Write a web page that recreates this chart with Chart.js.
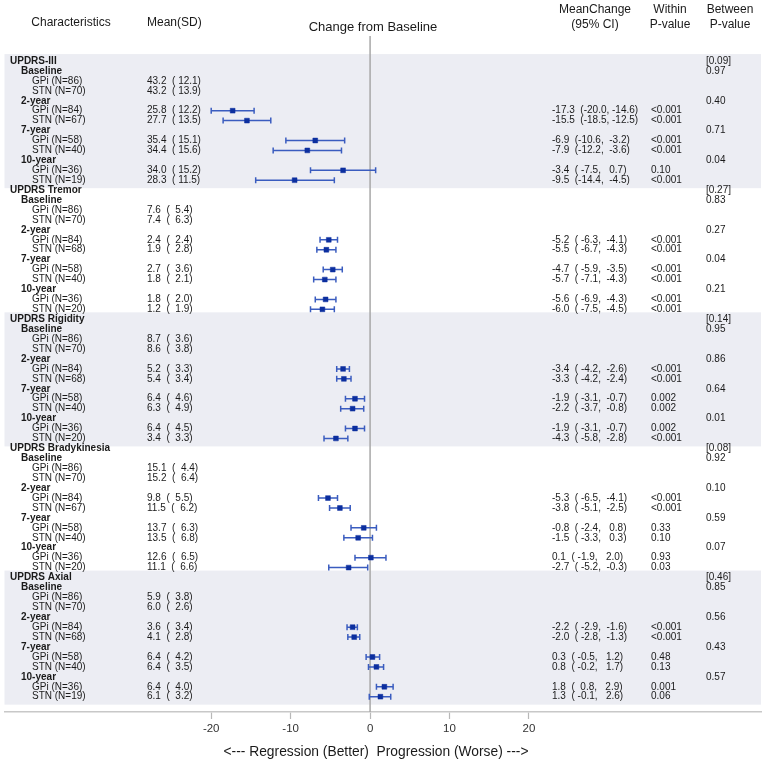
<!DOCTYPE html>
<html>
<head>
<meta charset="utf-8">
<script src="https://cdn.jsdelivr.net/npm/chart.js@4.4.1/dist/chart.umd.min.js"></script>
<style>
  html, body { margin: 0; padding: 0; background: #ffffff; }
  #wrap { width: 767px; height: 762px; }
</style>
</head>
<body>
<div id="wrap"><canvas id="c" width="767" height="762"></canvas></div>
<script>
// ---------------- DATA ----------------
const outcomes = ['UPDRS-III', 'UPDRS Tremor', 'UPDRS Rigidity', 'UPDRS Bradykinesia', 'UPDRS Axial'];
const timepoints = ['Baseline', '2-year', '7-year', '10-year'];
const overallP = ['0.09', '0.27', '0.14', '0.08', '0.46'];

// per outcome x timepoint (5 x 4 = 20 entries)
const gpiN    = [86, 84, 58, 36,  86, 84, 58, 36,  86, 84, 58, 36,  86, 84, 58, 36,  86, 84, 58, 36];
const stnN    = [70, 67, 40, 19,  70, 68, 40, 20,  70, 68, 40, 20,  70, 67, 40, 20,  70, 68, 40, 19];
const gpiMean = [43.2, 25.8, 35.4, 34.0,  7.6, 2.4, 2.7, 1.8,  8.7, 5.2, 6.4, 6.4,  15.1, 9.8, 13.7, 12.6,  5.9, 3.6, 6.4, 6.4];
const gpiSD   = [12.1, 12.2, 15.1, 15.2,  5.4, 2.4, 3.6, 2.0,  3.6, 3.3, 4.6, 4.5,  4.4, 5.5, 6.3, 6.5,  3.8, 3.4, 4.2, 4.0];
const stnMean = [43.2, 27.7, 34.4, 28.3,  7.4, 1.9, 1.8, 1.2,  8.6, 5.4, 6.3, 3.4,  15.2, 11.5, 13.5, 11.1,  6.0, 4.1, 6.4, 6.1];
const stnSD   = [13.9, 13.5, 15.6, 11.5,  6.3, 2.8, 2.1, 1.9,  3.8, 3.4, 4.9, 3.3,  6.4, 6.2, 6.8, 6.6,  2.6, 2.8, 3.5, 3.2];

const gpiChange = [null, -17.3, -6.9, -3.4,  null, -5.2, -4.7, -5.6,  null, -3.4, -1.9, -1.9,  null, -5.3, -0.8, 0.1,  null, -2.2, 0.3, 1.8];
const gpiLo     = [null, -20.0, -10.6, -7.5,  null, -6.3, -5.9, -6.9,  null, -4.2, -3.1, -3.1,  null, -6.5, -2.4, -1.9,  null, -2.9, -0.5, 0.8];
const gpiHi     = [null, -14.6, -3.2, 0.7,  null, -4.1, -3.5, -4.3,  null, -2.6, -0.7, -0.7,  null, -4.1, 0.8, 2.0,  null, -1.6, 1.2, 2.9];
const gpiP      = [null, '<0.001', '<0.001', '0.10',  null, '<0.001', '<0.001', '<0.001',  null, '<0.001', '0.002', '0.002',  null, '<0.001', '0.33', '0.93',  null, '<0.001', '0.48', '0.001'];

const stnChange = [null, -15.5, -7.9, -9.5,  null, -5.5, -5.7, -6.0,  null, -3.3, -2.2, -4.3,  null, -3.8, -1.5, -2.7,  null, -2.0, 0.8, 1.3];
const stnLo     = [null, -18.5, -12.2, -14.4,  null, -6.7, -7.1, -7.5,  null, -4.2, -3.7, -5.8,  null, -5.1, -3.3, -5.2,  null, -2.8, -0.2, -0.1];
const stnHi     = [null, -12.5, -3.6, -4.5,  null, -4.3, -4.3, -4.5,  null, -2.4, -0.8, -2.8,  null, -2.5, 0.3, -0.3,  null, -1.3, 1.7, 2.6];
const stnP      = [null, '<0.001', '<0.001', '<0.001',  null, '<0.001', '<0.001', '<0.001',  null, '<0.001', '0.002', '<0.001',  null, '<0.001', '0.10', '0.03',  null, '<0.001', '0.13', '0.06'];

const betweenP = ['0.97', '0.40', '0.71', '0.04',  '0.83', '0.27', '0.04', '0.21',  '0.95', '0.86', '0.64', '0.01',  '0.92', '0.10', '0.59', '0.07',  '0.85', '0.56', '0.43', '0.57'];

const xTicks = [-20, -10, 0, 10, 20];
const xTitle = '<--- Regression (Better)  Progression (Worse) --->';

// ---------------- LAYOUT HELPERS ----------------
const ROWS_PER_OUTCOME = 13;
const headerRow = o => o * ROWS_PER_OUTCOME;
const timeRow = (o, t) => o * ROWS_PER_OUTCOME + 1 + t * 3;
const groupRow = (o, t, g) => timeRow(o, t) + 1 + g;

const f1 = v => v.toFixed(1);
const pad = (s, w) => (' '.repeat(Math.max(0, w - s.length))) + s;

// build marks
const ciPts = [], estPts = [];
outcomes.forEach((o, oi) => {
  timepoints.forEach((t, ti) => {
    const k = oi * 4 + ti;
    if (gpiChange[k] !== null) {
      const r = groupRow(oi, ti, 0);
      ciPts.push({x: gpiLo[k], y: r}, {x: gpiHi[k], y: r}, {x: null, y: null});
      estPts.push({x: gpiChange[k], y: r});
    }
    if (stnChange[k] !== null) {
      const r = groupRow(oi, ti, 1);
      ciPts.push({x: stnLo[k], y: r}, {x: stnHi[k], y: r}, {x: null, y: null});
      estPts.push({x: stnChange[k], y: r});
    }
  });
});

const Y_MIN = -2.52, Y_MAX = 65.54;
const FONT = '"Liberation Sans", Arial, Helvetica, sans-serif';
const TXT = '#1a1a1a';

const bandPlugin = {
  id: 'bands',
  beforeDraw(chart) {
    const {ctx, chartArea, scales: {y}} = chart;
    ctx.save();
    ctx.fillStyle = '#ecedf3';
    outcomes.forEach((o, oi) => {
      if (oi % 2 !== 0) return;
      const top = y.getPixelForValue(headerRow(oi) - 0.7);
      const bot = y.getPixelForValue(headerRow(oi) + 12.8);
      ctx.fillRect(chartArea.left, top, chartArea.right - chartArea.left, bot - top);
    });
    ctx.restore();
  }
};

const textPlugin = {
  id: 'tableText',
  afterDraw(chart) {
    const {ctx, scales: {x, y}} = chart;
    ctx.save();
    ctx.fillStyle = TXT;
    ctx.textBaseline = 'middle';

    // column headers
    ctx.font = '12px ' + FONT;
    ctx.textAlign = 'center';
    ctx.fillText('Characteristics', 71, 23);
    ctx.textAlign = 'left';
    ctx.fillText('Mean(SD)', 147, 23);
    ctx.textAlign = 'center';
    ctx.fillText('MeanChange', 595, 10);
    ctx.fillText('(95% CI)', 595, 25);
    ctx.fillText('Within', 670, 10);
    ctx.fillText('P-value', 670, 25);
    ctx.fillText('Between', 730, 10);
    ctx.fillText('P-value', 730, 25);
    ctx.font = '13px ' + FONT;
    ctx.fillText('Change from Baseline', 373, 27);

    // axis title
    ctx.font = '13.8px ' + FONT;
    ctx.fillText(xTitle, 376, 752);

    // table rows
    outcomes.forEach((o, oi) => {
      const hy = y.getPixelForValue(headerRow(oi));
      ctx.textAlign = 'left';
      ctx.font = 'bold 10px ' + FONT;
      ctx.fillText(o, 10, hy);
      ctx.font = '10px ' + FONT;
      ctx.fillText('[' + overallP[oi] + ']', 706, hy);
      timepoints.forEach((t, ti) => {
        const k = oi * 4 + ti;
        const ty = y.getPixelForValue(timeRow(oi, ti));
        ctx.font = 'bold 10px ' + FONT;
        ctx.fillText(t, 21, ty);
        ctx.font = '10px ' + FONT;
        ctx.fillText(betweenP[k], 706, ty);
        const groups = [
          ['GPi', gpiN[k], gpiMean[k], gpiSD[k], gpiChange[k], gpiLo[k], gpiHi[k], gpiP[k]],
          ['STN', stnN[k], stnMean[k], stnSD[k], stnChange[k], stnLo[k], stnHi[k], stnP[k]]
        ];
        groups.forEach((g, gi) => {
          const gy = y.getPixelForValue(groupRow(oi, ti, gi));
          ctx.fillText(g[0] + ' (N=' + g[1] + ')', 32, gy);
          ctx.fillText(f1(g[2]) + '  (' + pad(f1(g[3]), 5) + ')', 147, gy);
          if (g[4] !== null) {
            ctx.fillText(f1(g[4]) + '  (' + pad(f1(g[5]), 5) + ', ' + pad(f1(g[6]), 5) + ')', 552, gy);
            ctx.fillText(g[7], 651, gy);
          }
        });
      });
    });
    ctx.restore();
  }
};

new Chart(document.getElementById('c'), {
  type: 'scatter',
  data: {
    datasets: [
      {
        label: 'Mean change',
        data: estPts,
        pointStyle: 'rect',
        pointRadius: 3.4,
        pointHoverRadius: 3.4,
        backgroundColor: '#0c2f9f',
        borderColor: '#0c2f9f',
        pointBorderWidth: 0.5,
        showLine: false
      },
      {
        label: '95% CI',
        data: ciPts,
        showLine: true,
        spanGaps: false,
        borderColor: '#3a5cbf',
        borderWidth: 1.5,
        pointStyle: 'line',
        rotation: 90,
        pointRadius: 3,
        pointHoverRadius: 3,
        pointBorderColor: '#3a5cbf',
        pointBorderWidth: 1.5,
        backgroundColor: '#3a5cbf'
      },
      {
        label: 'zero',
        data: [{x: 0, y: Y_MIN}, {x: 0, y: Y_MAX}],
        showLine: true,
        borderColor: '#a8a8a8',
        borderWidth: 1.5,
        pointRadius: 0,
        clip: false
      }
    ]
  },
  options: {
    responsive: false,
    animation: false,
    events: [],
    layout: { padding: { left: 3, right: 6, top: 36, bottom: 0 } },
    plugins: {
      legend: { display: false },
      tooltip: { enabled: false },
      title: { display: false }
    },
    scales: {
      x: {
        type: 'linear',
        position: 'bottom',
        min: -46.02,
        max: 49.21,
        afterBuildTicks: scale => { scale.ticks = xTicks.map(v => ({ value: v })); },
        afterFit: scale => { scale.height = 50; },
        grid: {
          drawOnChartArea: false,
          drawTicks: true,
          tickLength: 7,
          tickColor: '#b8b8b8',
          tickWidth: 1.2
        },
        border: { display: true, color: '#c8c8c8', width: 1.5 },
        ticks: {
          color: '#333333',
          font: { family: FONT, size: 11.5 },
          padding: 3,
          maxRotation: 0,
          autoSkip: false
        },
        title: { display: false }
      },
      y: {
        type: 'linear',
        reverse: true,
        min: Y_MIN,
        max: Y_MAX,
        display: false
      }
    }
  },
  plugins: [bandPlugin, textPlugin]
});
</script>
</body>
</html>
